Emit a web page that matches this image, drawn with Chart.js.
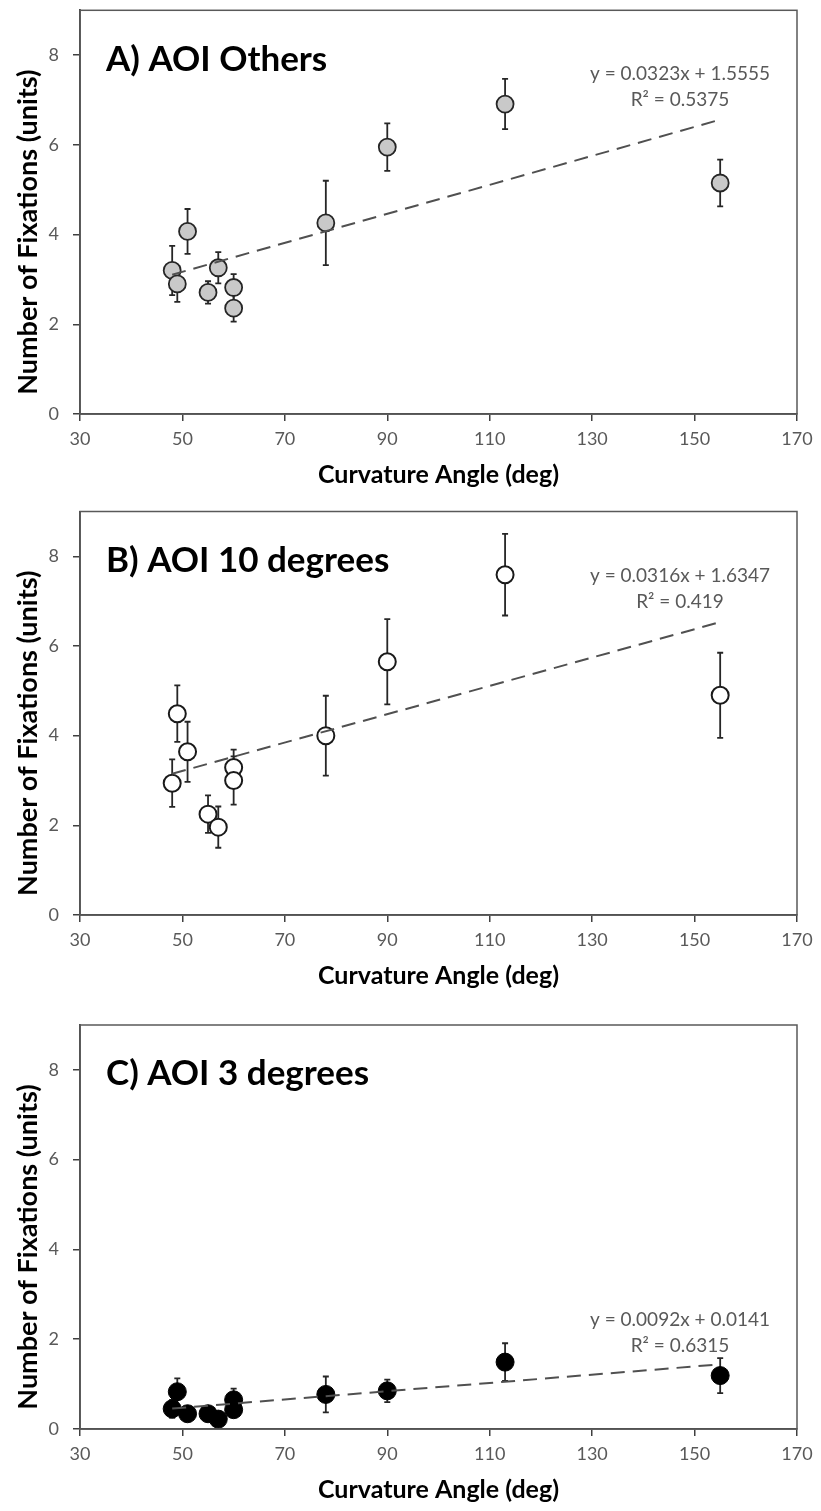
<!DOCTYPE html>
<html>
<head>
<meta charset="utf-8">
<script src="https://cdn.jsdelivr.net/npm/chart.js@4.4.1/dist/chart.umd.min.js"></script>
<style>
  html, body { margin: 0; padding: 0; background: #fff; }
  .panel { position: absolute; left: 0; width: 821px; height: 490px; }
</style>
</head>
<body>
<div class="panel" style="top:0px"><canvas id="chartA" width="821" height="490"></canvas></div>
<div class="panel" style="top:501px"><canvas id="chartB" width="821" height="490"></canvas></div>
<div class="panel" style="top:1015px"><canvas id="chartC" width="821" height="490"></canvas></div>
<script>
// Curvature angles (x) shared by all three panels
const angles = [48, 49, 51, 55, 57, 60, 60, 78, 90, 113, 155];

// A) AOI Others
const othersMean = [3.2, 2.9, 4.07, 2.71, 3.26, 2.82, 2.36, 4.26, 5.95, 6.91, 5.15];
const othersErr = [0.55, 0.4, 0.5, 0.25, 0.35, 0.3, 0.3, 0.94, 0.53, 0.56, 0.52];

// B) AOI 10 degrees
const tenMean = [2.94, 4.49, 3.64, 2.25, 1.96, 3.29, 3.0, 4.0, 5.65, 7.59, 4.9];
const tenErr = [0.53, 0.63, 0.67, 0.42, 0.46, 0.4, 0.54, 0.89, 0.95, 0.91, 0.95];

// C) AOI 3 degrees
const threeMean = [0.45, 0.83, 0.34, 0.34, 0.22, 0.65, 0.43, 0.77, 0.85, 1.49, 1.19];
const threeErr = [0.2, 0.3, 0.1, 0.1, 0.1, 0.25, 0.15, 0.4, 0.25, 0.42, 0.39];

// Linear fits printed on the chart
const fitSlopes = [0.0323, 0.0316, 0.0092];
const fitIntercepts = [1.5555, 1.6347, 0.0141];
const fitR2 = [0.5375, 0.419, 0.6315];
const fitRange = [48, 155];

const panelTitles = ['A) AOI Others', 'B) AOI 10 degrees', 'C) AOI 3 degrees'];
const xTitle = 'Curvature Angle (deg)';
const yTitle = 'Number of Fixations (units)';
const xMin = 30, xMax = 170, xStep = 20;
const yMin = 0, yMax = 9, yStep = 2;

const FONT = 'Lato, "Open Sans", sans-serif';
const TICK_GREY = '#595959';

const decorPlugin = {
    id: 'panelDecor',
    beforeDatasetsDraw(chart) {
        const { ctx, scales: { x, y } } = chart;
        chart.data.datasets.forEach(ds => {
            if (!ds.errorBars) return;
            ctx.save();
            ctx.strokeStyle = '#262626';
            ctx.lineWidth = 1.8;
            ds.data.forEach((p, i) => {
                const px = x.getPixelForValue(p.x);
                const top = y.getPixelForValue(p.y + ds.errorBars[i]);
                const bot = y.getPixelForValue(p.y - ds.errorBars[i]);
                ctx.beginPath();
                ctx.moveTo(px, top); ctx.lineTo(px, bot);
                ctx.moveTo(px - 3, top); ctx.lineTo(px + 3, top);
                ctx.moveTo(px - 3, bot); ctx.lineTo(px + 3, bot);
                ctx.stroke();
            });
            ctx.restore();
        });
    },
    afterDraw(chart, args, opts) {
        const { ctx, chartArea: a } = chart;
        ctx.save();
        // frame round the plot
        ctx.strokeStyle = '#595959';
        ctx.lineWidth = 1.5;
        ctx.strokeRect(a.left, a.top, a.right - a.left, a.bottom - a.top);

        // panel title
        ctx.fillStyle = '#000';
        ctx.font = 'bold 35px ' + FONT;
        ctx.textBaseline = 'middle';
        ctx.textAlign = 'left';
        ctx.fillText(opts.title, a.left + 26, a.top + 49);

        // fit equation
        ctx.font = '19px ' + FONT;
        ctx.fillStyle = TICK_GREY;
        ctx.textAlign = 'center';
        ctx.fillText(opts.equation, a.left + 600, a.top + opts.eqDy);
        ctx.fillText('R\u00B2 = ' + opts.r2, a.left + 600, a.top + opts.eqDy + 26);

        // y axis title, a little below the plot centre as in the original
        ctx.translate(28, (a.top + a.bottom) / 2 + 20);
        ctx.rotate(-Math.PI / 2);
        ctx.font = 'bold 27px ' + FONT;
        ctx.fillStyle = '#000';
        ctx.fillText(yTitle, 0, 0);
        ctx.restore();
    }
};

function makePoints(means) {
    return angles.map((a, i) => ({ x: a, y: means[i] }));
}

function makeFit(k) {
    return fitRange.map(v => ({ x: v, y: fitSlopes[k] * v + fitIntercepts[k] }));
}

function getChartConfig(k, means, errs, marker, eqDy) {
    return {
        type: 'scatter',
        data: {
            datasets: [
                {
                    type: 'line',
                    data: makeFit(k),
                    borderColor: '#505050',
                    borderWidth: 2,
                    borderDash: [14, 8],
                    pointRadius: 0,
                    fill: false,
                    order: 0
                },
                {
                    data: makePoints(means),
                    errorBars: errs,
                    pointRadius: marker.radius,
                    pointBackgroundColor: marker.fill,
                    pointBorderColor: marker.border,
                    pointBorderWidth: marker.borderWidth,
                    order: 1
                }
            ]
        },
        options: {
            responsive: false,
            animation: false,
            layout: { padding: { top: 8, right: 24, bottom: 0, left: 0 } },
            plugins: {
                legend: { display: false },
                tooltip: { enabled: false },
                panelDecor: {
                    title: panelTitles[k],
                    equation: 'y = ' + fitSlopes[k] + 'x + ' + fitIntercepts[k],
                    r2: fitR2[k],
                    eqDy: eqDy
                }
            },
            scales: {
                x: {
                    type: 'linear',
                    min: xMin,
                    max: xMax,
                    ticks: { stepSize: xStep, color: TICK_GREY, font: { family: FONT, size: 18 }, padding: 7 },
                    grid: { drawOnChartArea: false, drawTicks: true, tickLength: 7, color: '#404040', lineWidth: 1.5 },
                    border: { display: true, color: '#404040', width: 1.8 },
                    title: {
                        display: true,
                        text: xTitle,
                        color: '#000',
                        font: { family: FONT, size: 25, weight: 'bold' },
                        padding: { top: 0, bottom: 0 }
                    },
                    afterFit(scale) {
                        scale.height = 76;
                        scale.paddingLeft = 0;
                        scale.paddingRight = 0;
                    }
                },
                y: {
                    min: yMin,
                    max: yMax,
                    ticks: { stepSize: yStep, includeBounds: false, color: TICK_GREY, font: { family: FONT, size: 18 }, padding: 14 },
                    grid: { drawOnChartArea: false, drawTicks: true, tickLength: 7, color: '#404040', lineWidth: 1.5 },
                    border: { display: true, color: '#404040', width: 1.8 },
                    afterFit(scale) {
                        scale.width = 80;
                        scale.paddingTop = 0;
                        scale.paddingBottom = 0;
                    }
                }
            }
        },
        plugins: [decorPlugin]
    };
}

new Chart(document.getElementById('chartA'), getChartConfig(0, othersMean, othersErr,
    { radius: 8.5, fill: '#c9c9c9', border: '#262626', borderWidth: 1.8 }, 64));
new Chart(document.getElementById('chartB'), getChartConfig(1, tenMean, tenErr,
    { radius: 8.5, fill: '#ffffff', border: '#1a1a1a', borderWidth: 2 }, 64));
new Chart(document.getElementById('chartC'), getChartConfig(2, threeMean, threeErr,
    { radius: 9, fill: '#000000', border: '#000000', borderWidth: 1 }, 295));
</script>
</body>
</html>
